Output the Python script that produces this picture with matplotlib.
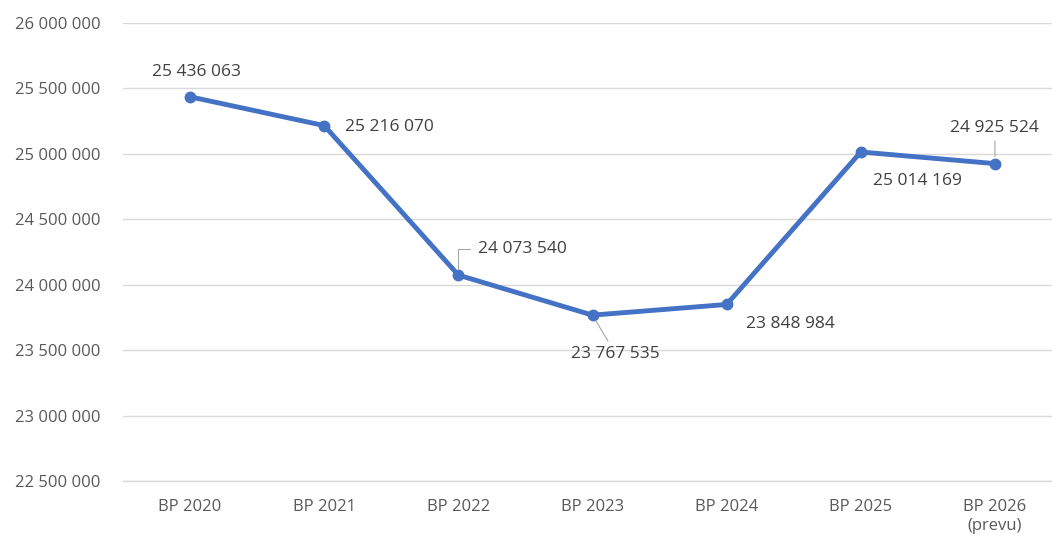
import matplotlib.pyplot as plt
from matplotlib.ticker import FuncFormatter

# data
categories = ["BP 2020", "BP 2021", "BP 2022", "BP 2023", "BP 2024", "BP 2025", "BP 2026\n(prevu)"]
values = [25436063, 25216070, 24073540, 23767535, 23848984, 25014169, 24925524]

plt.rcParams["font.family"] = ["Open Sans", "DejaVu Sans"]

fig = plt.figure(figsize=(10.52, 5.45), dpi=100)
ax = fig.add_axes([123 / 1052, 64 / 545, 939 / 1052, 458 / 545])

x = list(range(len(categories)))
ax.plot(x, values, color="#4472C4", linewidth=3.5, marker="o", markersize=7.5,
        solid_capstyle="round", zorder=3, clip_on=False)

ax.set_xlim(-0.5, len(categories) - 0.5)
ax.set_ylim(22500000, 26000000)
ax.set_yticks(range(22500000, 26000001, 500000))
ax.yaxis.set_major_formatter(FuncFormatter(lambda v, p: f"{int(v):,}".replace(",", " ")))
ax.set_xticks(x)
ax.set_xticklabels(categories, linespacing=1.25)
ax.grid(axis="y", color="#d9d9d9", linewidth=1)
ax.axhline(22500000, color="#d9d9d9", linewidth=1, clip_on=False, zorder=0)
ax.set_axisbelow(True)
for s in ax.spines.values():
    s.set_visible(False)
ax.tick_params(length=0, labelsize=12, colors="#595959")
ax.tick_params(axis="x", pad=13)
ax.tick_params(axis="y", pad=16)

# data labels: (offset px, ha, leader style)
label_specs = [
    ((6, 25), "center", None),
    ((21, -1), "left", None),
    ((20, 26), "left", "elbow"),
    ((23, -39), "center", "straight"),
    ((19, -20), "left", None),
    ((57, -29), "center", None),
    ((0, 36), "center", "vertical"),
]

def fmt(v):
    return f"{v:,}".replace(",", " ")

for i, (v, (off, ha, leader)) in enumerate(zip(values, label_specs)):
    kw = dict(textcoords="offset pixels", ha=ha, va="center",
              fontsize=12.5, color="#404040", zorder=4)
    if leader == "elbow":
        kw["arrowprops"] = dict(arrowstyle="-", color="#a6a6a6", lw=0.8,
                                connectionstyle="angle,angleA=0,angleB=90,rad=0",
                                relpos=(0, 0.5), shrinkA=4, shrinkB=5)
    elif leader == "straight":
        kw["arrowprops"] = dict(arrowstyle="-", color="#a6a6a6", lw=0.8,
                                relpos=(0.45, 1), shrinkA=2, shrinkB=5)
    elif leader == "vertical":
        kw["arrowprops"] = dict(arrowstyle="-", color="#a6a6a6", lw=0.8,
                                relpos=(0.5, 0), shrinkA=2, shrinkB=5)
    ax.annotate(fmt(v), (i, v), xytext=off, **kw)

fig.savefig("out.png", dpi=100)
